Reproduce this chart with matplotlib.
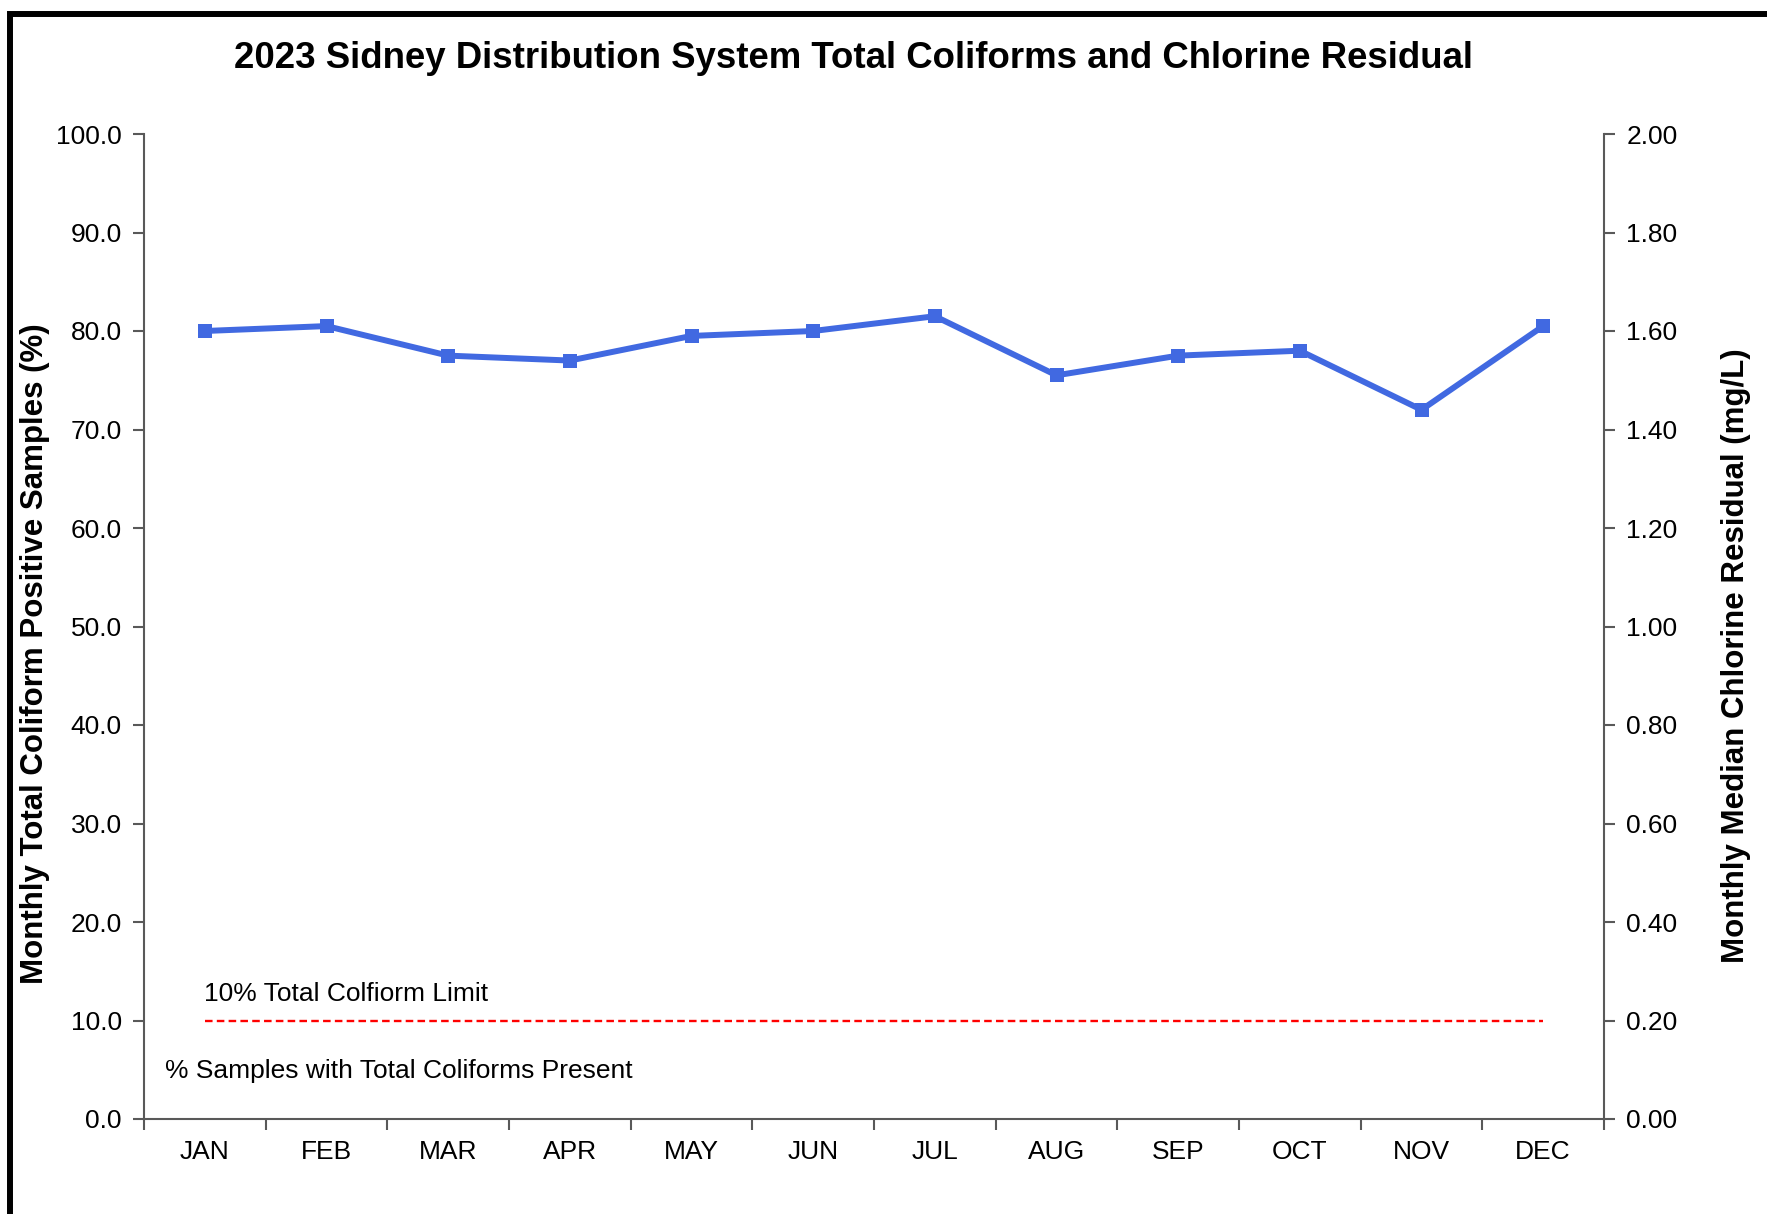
import matplotlib
matplotlib.use("Agg")
import matplotlib.pyplot as plt
from matplotlib.patches import Rectangle
from matplotlib.ticker import FixedLocator, NullFormatter

months = ["JAN", "FEB", "MAR", "APR", "MAY", "JUN",
          "JUL", "AUG", "SEP", "OCT", "NOV", "DEC"]
chlorine_mg_l = [1.60, 1.61, 1.55, 1.54, 1.59, 1.60,
                 1.63, 1.51, 1.55, 1.56, 1.44, 1.61]
coliform_limit_pct = 10.0
left_ticks = [0, 10, 20, 30, 40, 50, 60, 70, 80, 90, 100]
right_ticks = [0.0, 0.2, 0.4, 0.6, 0.8, 1.0, 1.2, 1.4, 1.6, 1.8, 2.0]

plt.rcParams["font.family"] = ["Liberation Sans", "DejaVu Sans"]

W, H = 1767, 1214
fig = plt.figure(figsize=(W / 100, H / 100), dpi=100)

# plot area in pixel coordinates
x0, x1 = 144, 1604
y_top, y_bot = 134, 1119
ax = fig.add_axes([x0 / W, 1 - y_bot / H, (x1 - x0) / W, (y_bot - y_top) / H])
ax2 = ax.twinx()

spine_col = "#595959"
x = list(range(len(months)))

ax.set_xlim(-0.5, len(months) - 0.5)
ax.set_ylim(0, 100)
ax2.set_ylim(0, 2.0)

# limit line
ax.plot([x[0], x[-1]], [coliform_limit_pct, coliform_limit_pct],
        color="#ff0000", lw=1.7, dashes=(3.2, 1.8), zorder=2)

# chlorine residual series
ax2.plot(x, chlorine_mg_l, color="#4169E1", lw=4.3, marker="s",
         markersize=10.5, markeredgewidth=0, zorder=3)

for a in (ax, ax2):
    a.spines["top"].set_visible(False)
    for s in ("left", "right", "bottom"):
        a.spines[s].set_color(spine_col)
        a.spines[s].set_linewidth(1.5)

ax.spines["right"].set_visible(False)
ax2.spines["left"].set_visible(False)
ax2.spines["bottom"].set_visible(False)

ax.set_yticks(left_ticks)
ax.set_yticklabels([f"{v:.1f}" for v in left_ticks])
ax2.set_yticks(right_ticks)
ax2.set_yticklabels([f"{v:.2f}" for v in right_ticks])

ax.set_xticks(x)
ax.set_xticklabels(months)
ax.xaxis.set_minor_locator(FixedLocator([i - 0.5 for i in range(len(months) + 1)]))
ax.xaxis.set_minor_formatter(NullFormatter())
ax.tick_params(axis="x", which="major", length=0, pad=15, labelsize=19)
ax.tick_params(axis="x", which="minor", length=8, width=1.5, color=spine_col,
               direction="out")
ax.tick_params(axis="y", length=8, width=1.5, color=spine_col, labelsize=19,
               pad=8, direction="out")
ax2.tick_params(axis="y", length=8, width=1.5, color=spine_col, labelsize=19,
                pad=8, direction="out")

fig.text(35 / W, 1 - 654 / H, "Monthly Total Coliform Positive Samples (%)",
         rotation=90, ha="center", va="center", fontsize=22.5, fontweight="bold")
fig.text(1736 / W, 1 - 656 / H, "Monthly Median Chlorine Residual (mg/L)",
         rotation=90, ha="center", va="center", fontsize=22.5, fontweight="bold")

fig.text(853 / W, 1 - 59 / H,
         "2023 Sidney Distribution System Total Coliforms and Chlorine Residual",
         ha="center", va="center", fontsize=26.4, fontweight="bold")

ax.text(-0.01, 12.7, "10% Total Colfiorm Limit", ha="left", va="center",
        fontsize=19)
ax.text(-0.33, 4.9, "% Samples with Total Coliforms Present", ha="left",
        va="center", fontsize=19)

# outer frame
fig.patches.append(Rectangle((10 / W, -0.05), 1.1, 1 - 14 / H + 0.05,
                             transform=fig.transFigure, fill=False,
                             edgecolor="black", linewidth=4.3))

fig.savefig("out.png", dpi=100)
